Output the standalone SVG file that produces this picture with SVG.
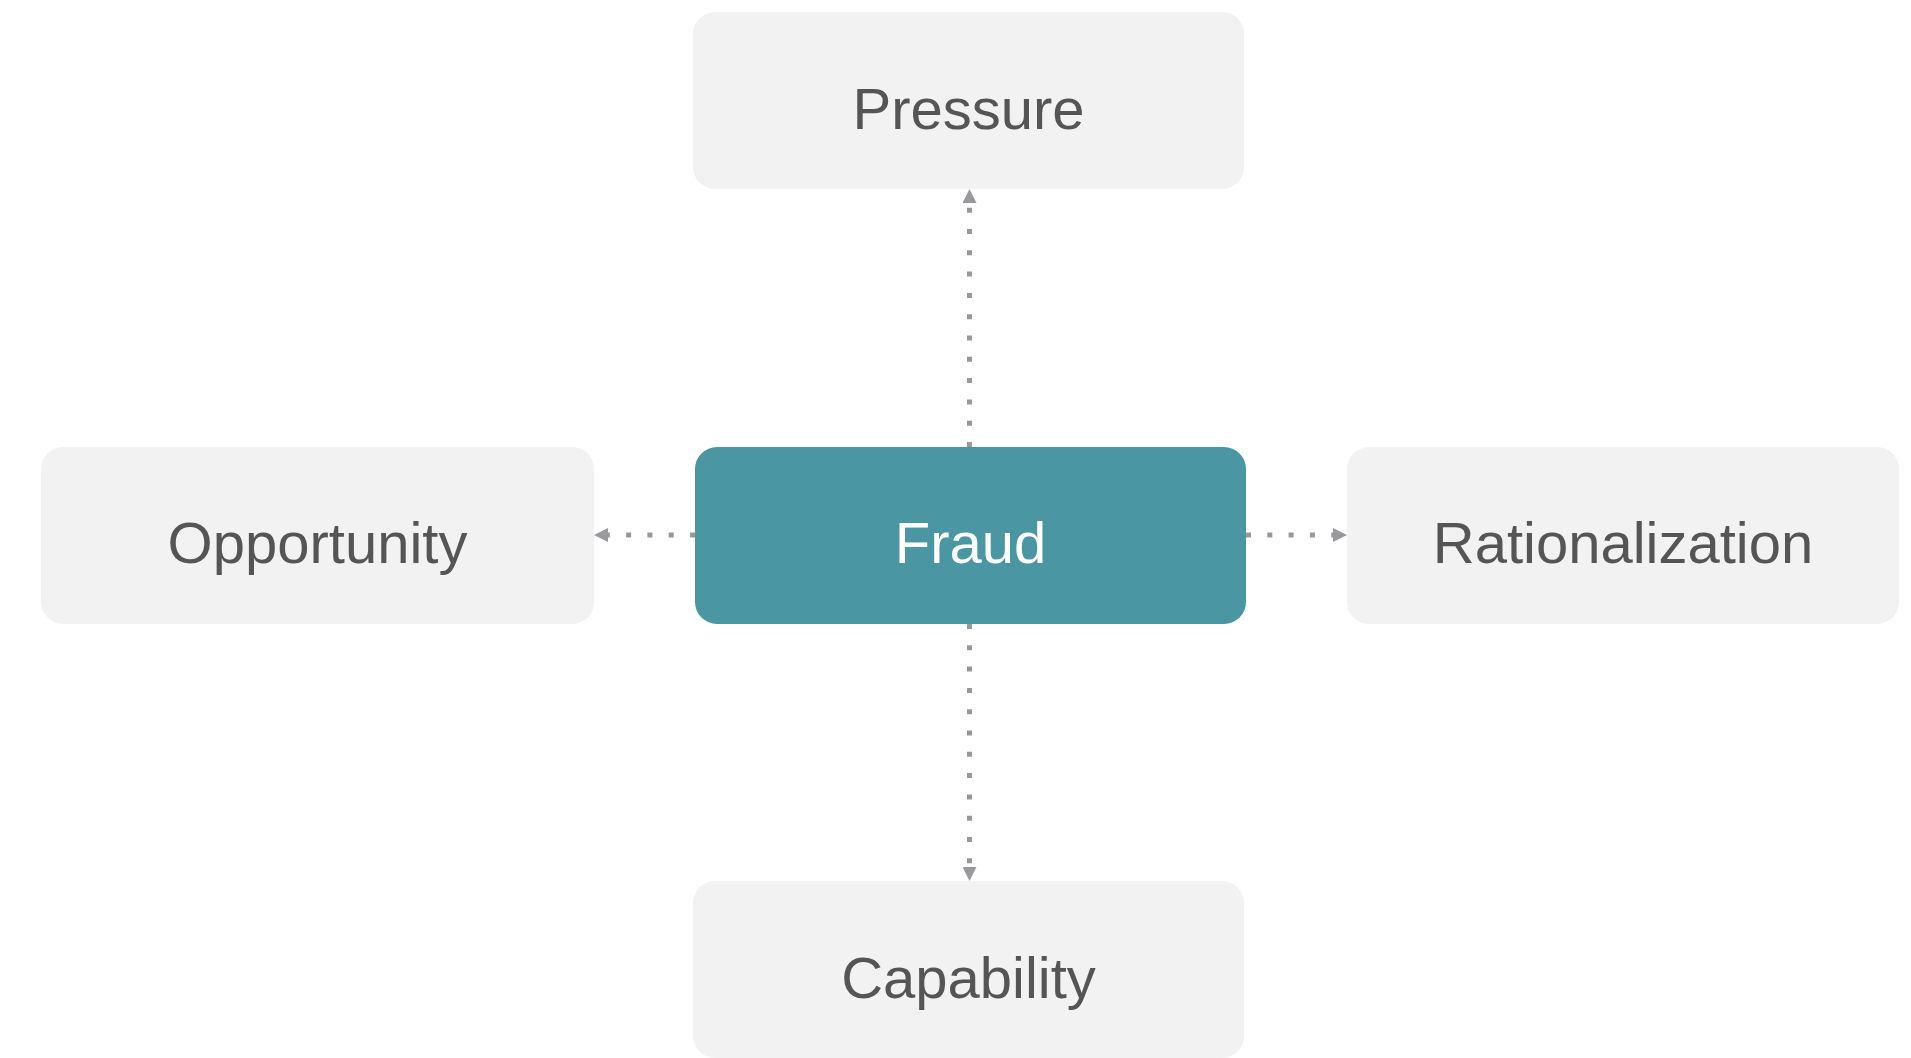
<svg xmlns="http://www.w3.org/2000/svg" width="1911" height="1058" viewBox="0 0 1911 1058">
  <style>
    .node rect { fill: #f2f2f2; }
    .node text { font-family: "Liberation Sans", Arial, sans-serif; font-size: 58px; fill: #555555; text-anchor: middle; }
    #fraud rect { fill: #4a96a2; }
    #fraud text { fill: #ffffff; }
    .link { fill: none; stroke: #999999; stroke-width: 5; stroke-dasharray: 5 16.3; marker-end: url(#arrow); }
  </style>
  <defs>
    <!-- triangular head placed just past the end of each dotted line -->
    <marker id="arrow" viewBox="0 0 10 10" refX="0" refY="5" markerWidth="14" markerHeight="14" markerUnits="userSpaceOnUse" orient="auto">
      <path d="M0,0 L10,5 L0,10 Z" fill="#9a9a9e"/>
    </marker>
  </defs>
  <rect width="1911" height="1058" fill="#ffffff"/>

  <!-- connectors: Fraud out to each element -->
  <g id="connectors">
    <path class="link" d="M969.5,447 V203"/>
    <path class="link" d="M969.5,624 V867"/>
    <path class="link" d="M695,535 H608"/>
    <path class="link" d="M1246,535 H1333"/>
  </g>

  <g id="pressure" class="node">
    <rect x="693" y="12" width="551" height="177" rx="22"/>
    <text x="968.5" y="129">Pressure</text>
  </g>
  <g id="opportunity" class="node">
    <rect x="41" y="447" width="553" height="177" rx="22"/>
    <text x="317.5" y="563">Opportunity</text>
  </g>
  <g id="fraud" class="node">
    <rect x="695" y="447" width="551" height="177" rx="22"/>
    <text x="970.5" y="563">Fraud</text>
  </g>
  <g id="rationalization" class="node">
    <rect x="1347" y="447" width="552" height="177" rx="22"/>
    <text x="1623" y="563">Rationalization</text>
  </g>
  <g id="capability" class="node">
    <rect x="693" y="881" width="551" height="177" rx="22"/>
    <text x="968.5" y="998">Capability</text>
  </g>
</svg>
